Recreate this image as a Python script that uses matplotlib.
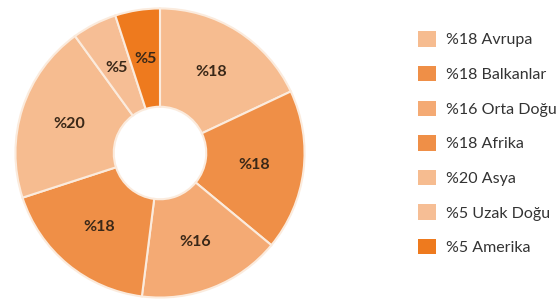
import matplotlib.pyplot as plt
from matplotlib.patches import Patch

regions = ['Avrupa', 'Balkanlar', 'Orta Doğu', 'Afrika', 'Asya', 'Uzak Doğu', 'Amerika']
shares = [18, 18, 16, 18, 20, 5, 5]
colors = ['#F6BC90', '#EF8F47', '#F4AA74', '#EF8F47', '#F6BC90', '#F6BE95', '#EE7A1E']

plt.rcParams['font.family'] = ['Lato', 'DejaVu Sans']

fig = plt.figure(figsize=(5.57, 3.06), dpi=100)
ax = fig.add_axes([14/557, 7/306, 292/557, 292/306])

labels = ['%' + str(s) for s in shares]
wedges, texts = ax.pie(shares, colors=colors, startangle=90, counterclock=False,
                       labels=labels, labeldistance=0.66,
                       wedgeprops=dict(width=0.68, edgecolor='#FBEBDD', linewidth=1.5),
                       textprops=dict(fontsize=11.5, fontweight='bold', color='#3A2818',
                                      ha='center', va='center'))
ax.set_xlim(-1.01, 1.01)
ax.set_ylim(-1.01, 1.01)
ax.set_aspect('equal')

handles = [Patch(facecolor=c, edgecolor='none') for c in colors]
leg_labels = ['%' + str(s) + ' ' + r for s, r in zip(shares, regions)]
fig.legend(handles, leg_labels, loc='upper left', bbox_to_anchor=(404/557, 1 - 17/306),
           frameon=False, fontsize=11.5, handlelength=1.1, handleheight=1.1,
           labelspacing=1.16, handletextpad=0.6, labelcolor='#333333')

fig.savefig('out.png', dpi=100)
